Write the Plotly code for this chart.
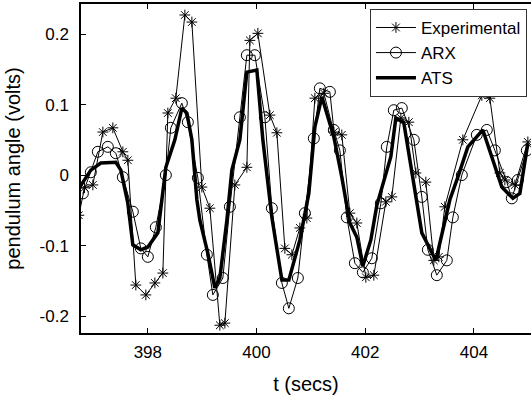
import plotly.graph_objects as go

# Experimental data
exp_t = [396.73, 396.835, 396.988, 397.172, 397.356, 397.540, 397.632, 397.779, 397.963, 398.129,
         398.276, 398.368, 398.515, 398.681, 398.810, 398.994, 399.141, 399.325, 399.417, 399.601,
         399.822, 399.877, 400.024, 400.245, 400.374, 400.521, 400.650, 400.797, 400.925, 401.073,
         401.238, 401.422, 401.569, 401.717, 401.845, 402.011, 402.158, 402.379, 402.489, 402.655,
         402.802, 402.931, 403.115, 403.262, 403.354, 403.464, 403.796, 404.145, 404.293, 404.477,
         404.569, 404.753, 404.992]
exp_y = [-0.057, -0.018, -0.014, 0.061, 0.067, 0.033, 0.021, -0.156, -0.170, -0.153,
         -0.139, 0.088, 0.109, 0.227, 0.217, -0.017, -0.047, -0.213, -0.210, -0.014,
         0.011, 0.191, 0.201, 0.085, 0.060, -0.104, -0.113, -0.075, -0.061, 0.109,
         0.116, 0.061, 0.057, -0.054, -0.068, -0.145, -0.142, -0.038, -0.031, 0.081,
         0.075, 0.003, -0.010, -0.121, -0.116, -0.045, 0.050, 0.113, 0.109, 0.003,
         -0.007, -0.014, 0.047]

# ARX model output
arx_t = [396.804, 396.951, 397.080, 397.264, 397.411, 397.540, 397.724, 397.871, 398.000, 398.147,
         398.331, 398.423, 398.626, 398.736, 398.920, 399.086, 399.196, 399.380, 399.509, 399.693,
         399.822, 399.969, 400.153, 400.282, 400.466, 400.594, 400.760, 400.889, 401.054, 401.165,
         401.349, 401.422, 401.533, 401.661, 401.809, 401.956, 402.121, 402.287, 402.397, 402.526,
         402.673, 402.894, 403.041, 403.152, 403.317, 403.501, 403.612, 403.777, 404.053, 404.237,
         404.385, 404.605, 404.697, 404.808, 404.973]
arx_y = [-0.026, 0.004, 0.033, 0.040, 0.031, -0.003, -0.052, -0.104, -0.116, -0.074,
         0.000, 0.067, 0.102, 0.075, -0.004, -0.113, -0.170, -0.146, -0.045, 0.082,
         0.170, 0.170, 0.082, -0.047, -0.153, -0.189, -0.146, -0.054, 0.052, 0.123,
         0.118, 0.064, 0.035, -0.060, -0.125, -0.138, -0.118, -0.040, 0.040, 0.092,
         0.095, 0.050, -0.031, -0.106, -0.142, -0.121, -0.060, 0.000, 0.057, 0.064,
         0.035, -0.010, -0.033, -0.007, 0.035]

# ATS model output
ats_t = [396.712, 396.951, 397.135, 397.411, 397.503, 397.632, 397.724, 397.871, 398.000, 398.184,
         398.331, 398.497, 398.626, 398.718, 398.810, 398.902, 398.957, 399.104, 399.233, 399.325,
         399.454, 399.546, 399.693, 399.822, 400.006, 400.116, 400.282, 400.466, 400.594, 400.797,
         400.962, 401.073, 401.202, 401.330, 401.422, 401.569, 401.717, 401.845, 401.956, 402.103,
         402.213, 402.471, 402.563, 402.710, 402.894, 403.041, 403.299, 403.557, 403.704, 403.888,
         404.164, 404.329, 404.513, 404.716, 404.845, 404.992]
ats_y = [-0.021, 0.007, 0.017, 0.018, 0.007, -0.040, -0.099, -0.106, -0.102, -0.082,
         0.011, 0.050, 0.095, 0.088, 0.050, -0.035, -0.064, -0.111, -0.160, -0.146,
         -0.064, 0.007, 0.050, 0.146, 0.149, 0.050, -0.060, -0.149, -0.149, -0.092,
         -0.026, 0.068, 0.111, 0.078, 0.054, -0.003, -0.068, -0.088, -0.129, -0.092,
         -0.043, 0.026, 0.081, 0.074, -0.011, -0.082, -0.121, -0.035, -0.003, 0.040,
         0.064, 0.026, -0.017, -0.033, -0.026, 0.045]

x_ticks = [398, 400, 402, 404]
y_ticks = [-0.2, -0.1, 0, 0.1, 0.2]
y_tick_text = ["-0.2", "-0.1", "0", "0.1", "0.2"]

FONT = "Liberation Sans, Arial, sans-serif"

fig = go.Figure()
fig.add_trace(go.Scatter(
    x=exp_t, y=exp_y, name="Experimental", mode="lines+markers",
    line=dict(color="black", width=1),
    marker=dict(symbol="asterisk-open", size=9, color="black", line=dict(color="black", width=1)),
))
fig.add_trace(go.Scatter(
    x=arx_t, y=arx_y, name="ARX", mode="lines+markers",
    line=dict(color="black", width=1),
    marker=dict(symbol="circle-open", size=11, color="black", line=dict(color="black", width=1)),
))
fig.add_trace(go.Scatter(
    x=ats_t, y=ats_y, name="ATS", mode="lines",
    line=dict(color="black", width=3.5),
))

fig.update_layout(
    width=531, height=397,
    margin=dict(l=81, r=0, t=4, b=64),
    paper_bgcolor="white", plot_bgcolor="white",
    font=dict(family=FONT, size=17, color="black"),
    showlegend=True,
    legend=dict(
        x=0.991, y=0.985, xanchor="right", yanchor="top",
        bgcolor="white", bordercolor="#333333", borderwidth=1,
        font=dict(size=17), tracegroupgap=0, itemwidth=40,
        entrywidth=160, entrywidthmode="pixels",
    ),
    xaxis=dict(
        range=[396.77, 405.05], tickvals=x_ticks,
        ticks="inside", ticklen=5, tickwidth=1, tickcolor="black",
        showline=True, linecolor="black", linewidth=1.5, mirror="ticks",
        showgrid=False, zeroline=False, ticklabelstandoff=3,
        title=dict(text="t (secs)", standoff=16),
    ),
    yaxis=dict(
        range=[-0.224, 0.2426], tickvals=y_ticks, ticktext=y_tick_text,
        ticks="inside", ticklen=5, tickwidth=1, tickcolor="black",
        showline=True, linecolor="black", linewidth=1.5, mirror=False,
        showgrid=False, zeroline=False, ticklabelstandoff=7,
        title=dict(text="pendulum angle (volts)", standoff=14),
    ),
)

fig.write_html("out.html", config={"displayModeBar": False},
               post_script="document.body.style.margin='0';")
